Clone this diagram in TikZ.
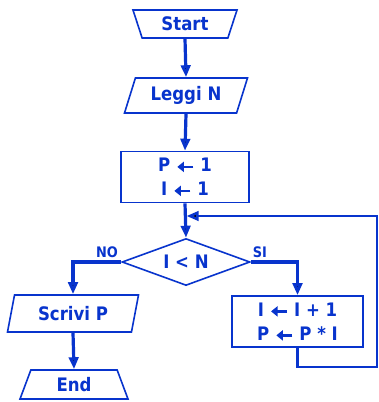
\documentclass[tikz,border=0pt]{standalone}
\usepackage{fontspec}
\setmainfont{DejaVu Sans}
\newfontfamily\chartfont{DejaVu Sans Bold}[FakeStretch=0.89]
\usetikzlibrary{shapes.geometric,arrows.meta}
\definecolor{fc}{RGB}{8,52,205}

% bold left arrow used for assignments
\newcommand\getsarrow{\tikz[baseline={(0pt,-4.8pt)}]
  \draw[fc, line width=2.6pt, -{Triangle[length=6.5pt,width=10pt]}] (16pt,0pt) -- (0pt,0pt);}

\begin{document}
\begin{tikzpicture}[x=1pt,y=-1pt,
  every node/.style={text=fc, font=\chartfont\fontsize{18.6}{24}\selectfont, inner sep=0pt},
  outline/.style={draw=fc, line width=1.6pt},
  term/.style={outline, trapezium, trapezium stretches body},
  io/.style={outline, trapezium, trapezium stretches body},
  procbox/.style={outline, rectangle, align=center, minimum width=128pt, minimum height=51pt},
  decision/.style={outline, diamond, aspect=2.7, minimum width=128pt, minimum height=47pt},
  tip/.style={-{Triangle[length=12pt,width=9.5pt]}},
  flow/.style={draw=fc, line width=3.2pt, tip},
  loopline/.style={draw=fc, line width=2.6pt, tip},
  branch/.style={text=fc, font=\chartfont\fontsize{14.5}{16}\selectfont}]

  \useasboundingbox (0,0) rectangle (379,402);
  \fill[white] (0,0) rectangle (379,402);

  % terminals, I/O blocks, processes and the test
  \node[term, shape border rotate=180, trapezium angle=57,
        minimum width=104pt, minimum height=28pt] (start) at (185,24) {Start};
  \node[io, trapezium left angle=59, trapezium right angle=121,
        minimum width=123pt, minimum height=35pt] (leggi) at (186,95.5) {Leggi N};
  \node[procbox] (init) at (185,177) {P \getsarrow{} 1\\I \getsarrow{} 1};
  \node[decision] (cond) at (186,262) {I < N};
  \node[io, trapezium left angle=64, trapezium right angle=116,
        minimum width=131pt, minimum height=37pt] (scrivi) at (73,313.5) {Scrivi P};
  \node[term, trapezium angle=53,
        minimum width=108pt, minimum height=29pt] (fine) at (74,384.5) {End};
  \node[procbox, minimum width=131pt] (body) at (297.5,321.5) {I \getsarrow{} I + 1\\P \getsarrow{} P * I};

  % loop routing points
  \coordinate (join) at (185,216);
  \coordinate (corner) at (377,367);

  % main flow
  \draw[flow] (start.south) -- (leggi.north);
  \draw[flow] (leggi.south) -- (init.north);
  \draw[flow] (init.south) -- (cond.north);
  \draw[flow] (cond.west) -| (scrivi.north);
  \draw[flow] (cond.east) -| (body.north);
  \draw[flow] (scrivi.south) -- (fine.north);
  \draw[loopline, shorten >=1.6pt] (body.south) |- (corner) |- (join);

  % branch labels
  \node[branch] (no) at (107,252) {NO};
  \node[branch] (si) at (260,252) {SI};
\end{tikzpicture}
\end{document}
